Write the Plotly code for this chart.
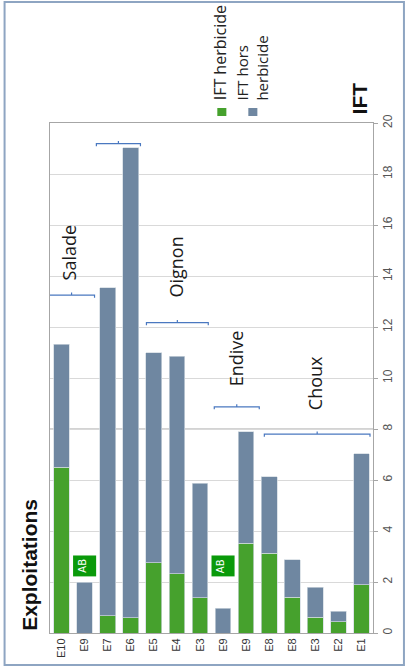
import plotly.graph_objects as go

# ---- data ----
exploitations = ["E10", "E9", "E7", "E6", "E5", "E4", "E3", "E9", "E9", "E8", "E8", "E3", "E2", "E1"]
ift_total = [11.33, 2.0, 13.54, 19.03, 11.0, 10.86, 5.87, 0.98, 7.9, 6.13, 2.87, 1.8, 0.86, 7.02]
ift_herbicide = [6.5, 0.0, 0.68, 0.6, 2.76, 2.33, 1.38, 0.0, 3.52, 3.12, 1.41, 0.62, 0.44, 1.89]
ift_hors_herbicide = [round(t - h, 2) for t, h in zip(ift_total, ift_herbicide)]
y_ticks = [0, 2, 4, 6, 8, 10, 12, 14, 16, 18, 20]

# crop groups: (label, bracket start, bracket end, bracket level, label x, label y)
groups = [
    ("Salade", -0.56, 1.43, 13.25, 0.34, 14.94),
    ("Poireau", 1.51, 3.42, 19.19, 2.38, 21.6),
    ("Oignon", 3.68, 6.36, 12.17, 4.98, 14.35),
    ("Endive", 6.62, 8.57, 8.87, 7.57, 10.78),
    ("Choux", 8.79, 13.37, 7.8, 10.99, 9.8),
]
organic_idx = [1, 7]  # AB logos

GREEN = "#46a12d"
BLUE = "#6f87a1"
BRACKET = "#4a78c0"
FONT = "Open Sans"

x = list(range(len(exploitations)))

fig = go.Figure()
fig.add_trace(go.Bar(x=x, y=ift_herbicide, name="IFT herbicide",
                     marker=dict(color=GREEN, line=dict(color="#d0d8e0", width=0.7)),
                     width=0.68))
fig.add_trace(go.Bar(x=x, y=ift_hors_herbicide, name="IFT hors herbicide",
                     marker=dict(color=BLUE, line=dict(color="#d0d8e0", width=0.7)),
                     width=0.68))

shapes = []
annotations = []

# darker reference line at 8
shapes.append(dict(type="line", xref="paper", yref="y", x0=0, x1=1, y0=8, y1=8,
                   line=dict(color="#a6a6a6", width=1), layer="below"))

# brackets
d = 0.1
for label, x0, x1, yb, lx, ly in groups:
    xm = (x0 + x1) / 2
    path = (f"M {x0},{yb - d} L {x0},{yb} L {x1},{yb} L {x1},{yb - d} "
            f"M {xm},{yb} L {xm},{yb + d}")
    shapes.append(dict(type="path", xref="x", yref="y", path=path,
                       line=dict(color=BRACKET, width=1.2)))
    annotations.append(dict(x=lx, y=ly, xref="x", yref="y", text=label, showarrow=False,
                            textangle=-90, font=dict(family=FONT, size=18, color="#1a1a1a")))

# AB logos
for i in organic_idx:
    shapes.append(dict(type="rect", xref="x", yref="y", x0=i - 0.5, x1=i + 0.5,
                       y0=2.63 - 0.41, y1=2.63 + 0.41,
                       fillcolor="#0a9a0a", line=dict(width=0)))
    annotations.append(dict(x=i - 0.08, y=2.63, xref="x", yref="y", text="AB", showarrow=False,
                            textangle=-90, font=dict(family="DejaVu Sans", size=10, color="white")))

# legend (rotated, drawn manually)
shapes.append(dict(type="rect", xref="paper", yref="paper", x0=0.518, x1=0.546,
                   y0=1.0137, y1=1.0294, fillcolor=GREEN, line=dict(width=0)))
shapes.append(dict(type="rect", xref="paper", yref="paper", x0=0.614, x1=0.642,
                   y0=1.0137, y1=1.0294, fillcolor=BLUE, line=dict(width=0)))
annotations.append(dict(x=0.527, y=1.04, xref="paper", yref="paper", text="IFT herbicide",
                        showarrow=False, textangle=-90, xanchor="center", yanchor="bottom",
                        font=dict(family=FONT, size=16, color="#222")))
annotations.append(dict(x=0.627, y=1.04, xref="paper", yref="paper", text="IFT hors<br>herbicide",
                        showarrow=False, textangle=-90, xanchor="center", yanchor="bottom",
                        align="left", font=dict(family=FONT, size=15, color="#222")))

# axis titles
annotations.append(dict(x=1.0, y=1.012, xref="paper", yref="paper", text="<b>IFT</b>",
                        showarrow=False, textangle=-90, xanchor="right", yanchor="bottom",
                        font=dict(family="Liberation Sans", size=21, color="#111")))
annotations.append(dict(x=-0.066, y=0.133, xref="paper", yref="paper", text="<b>Exploitations</b>",
                        showarrow=False, textangle=-90, xanchor="center", yanchor="middle",
                        font=dict(family="Liberation Sans", size=21, color="#111")))

# outer border
shapes.append(dict(type="rect", xref="paper", yref="paper",
                   x0=(4 - 49.5) / 323.5, x1=(404 - 49.5) / 323.5,
                   y0=(633 - 665) / 510, y1=(633 - 2) / 510,
                   line=dict(color="#8ea5c2", width=2)))

fig.update_layout(
    barmode="stack",
    width=409, height=669,
    margin=dict(l=49.5, r=36, t=123, b=36, autoexpand=False),
    paper_bgcolor="white", plot_bgcolor="white",
    showlegend=False,
    shapes=shapes, annotations=annotations,
    bargap=0.3,
)
fig.update_xaxes(
    tickvals=x, ticktext=exploitations, tickangle=-90,
    range=[-0.5, len(x) - 0.5],
    showline=True, linecolor="#a6a6a6", linewidth=1, mirror=True,
    showgrid=False, ticks="",
    tickfont=dict(family="Liberation Sans", size=11, color="#333"),
    automargin=False,
)
fig.update_yaxes(
    side="right", range=[0, 20], tickvals=y_ticks, tickangle=-90,
    showline=True, linecolor="#a6a6a6", linewidth=1, mirror=True,
    showgrid=True, gridcolor="#d9d9d9", gridwidth=1,
    ticks="outside", ticklen=4, tickcolor="#a6a6a6",
    tickfont=dict(family="Liberation Sans", size=12, color="#555"),
    zeroline=False, automargin=False,
)

fig.write_html("out.html", config={"displayModeBar": False},
               post_script="document.body.style.margin='0';document.body.style.overflow='hidden';")
